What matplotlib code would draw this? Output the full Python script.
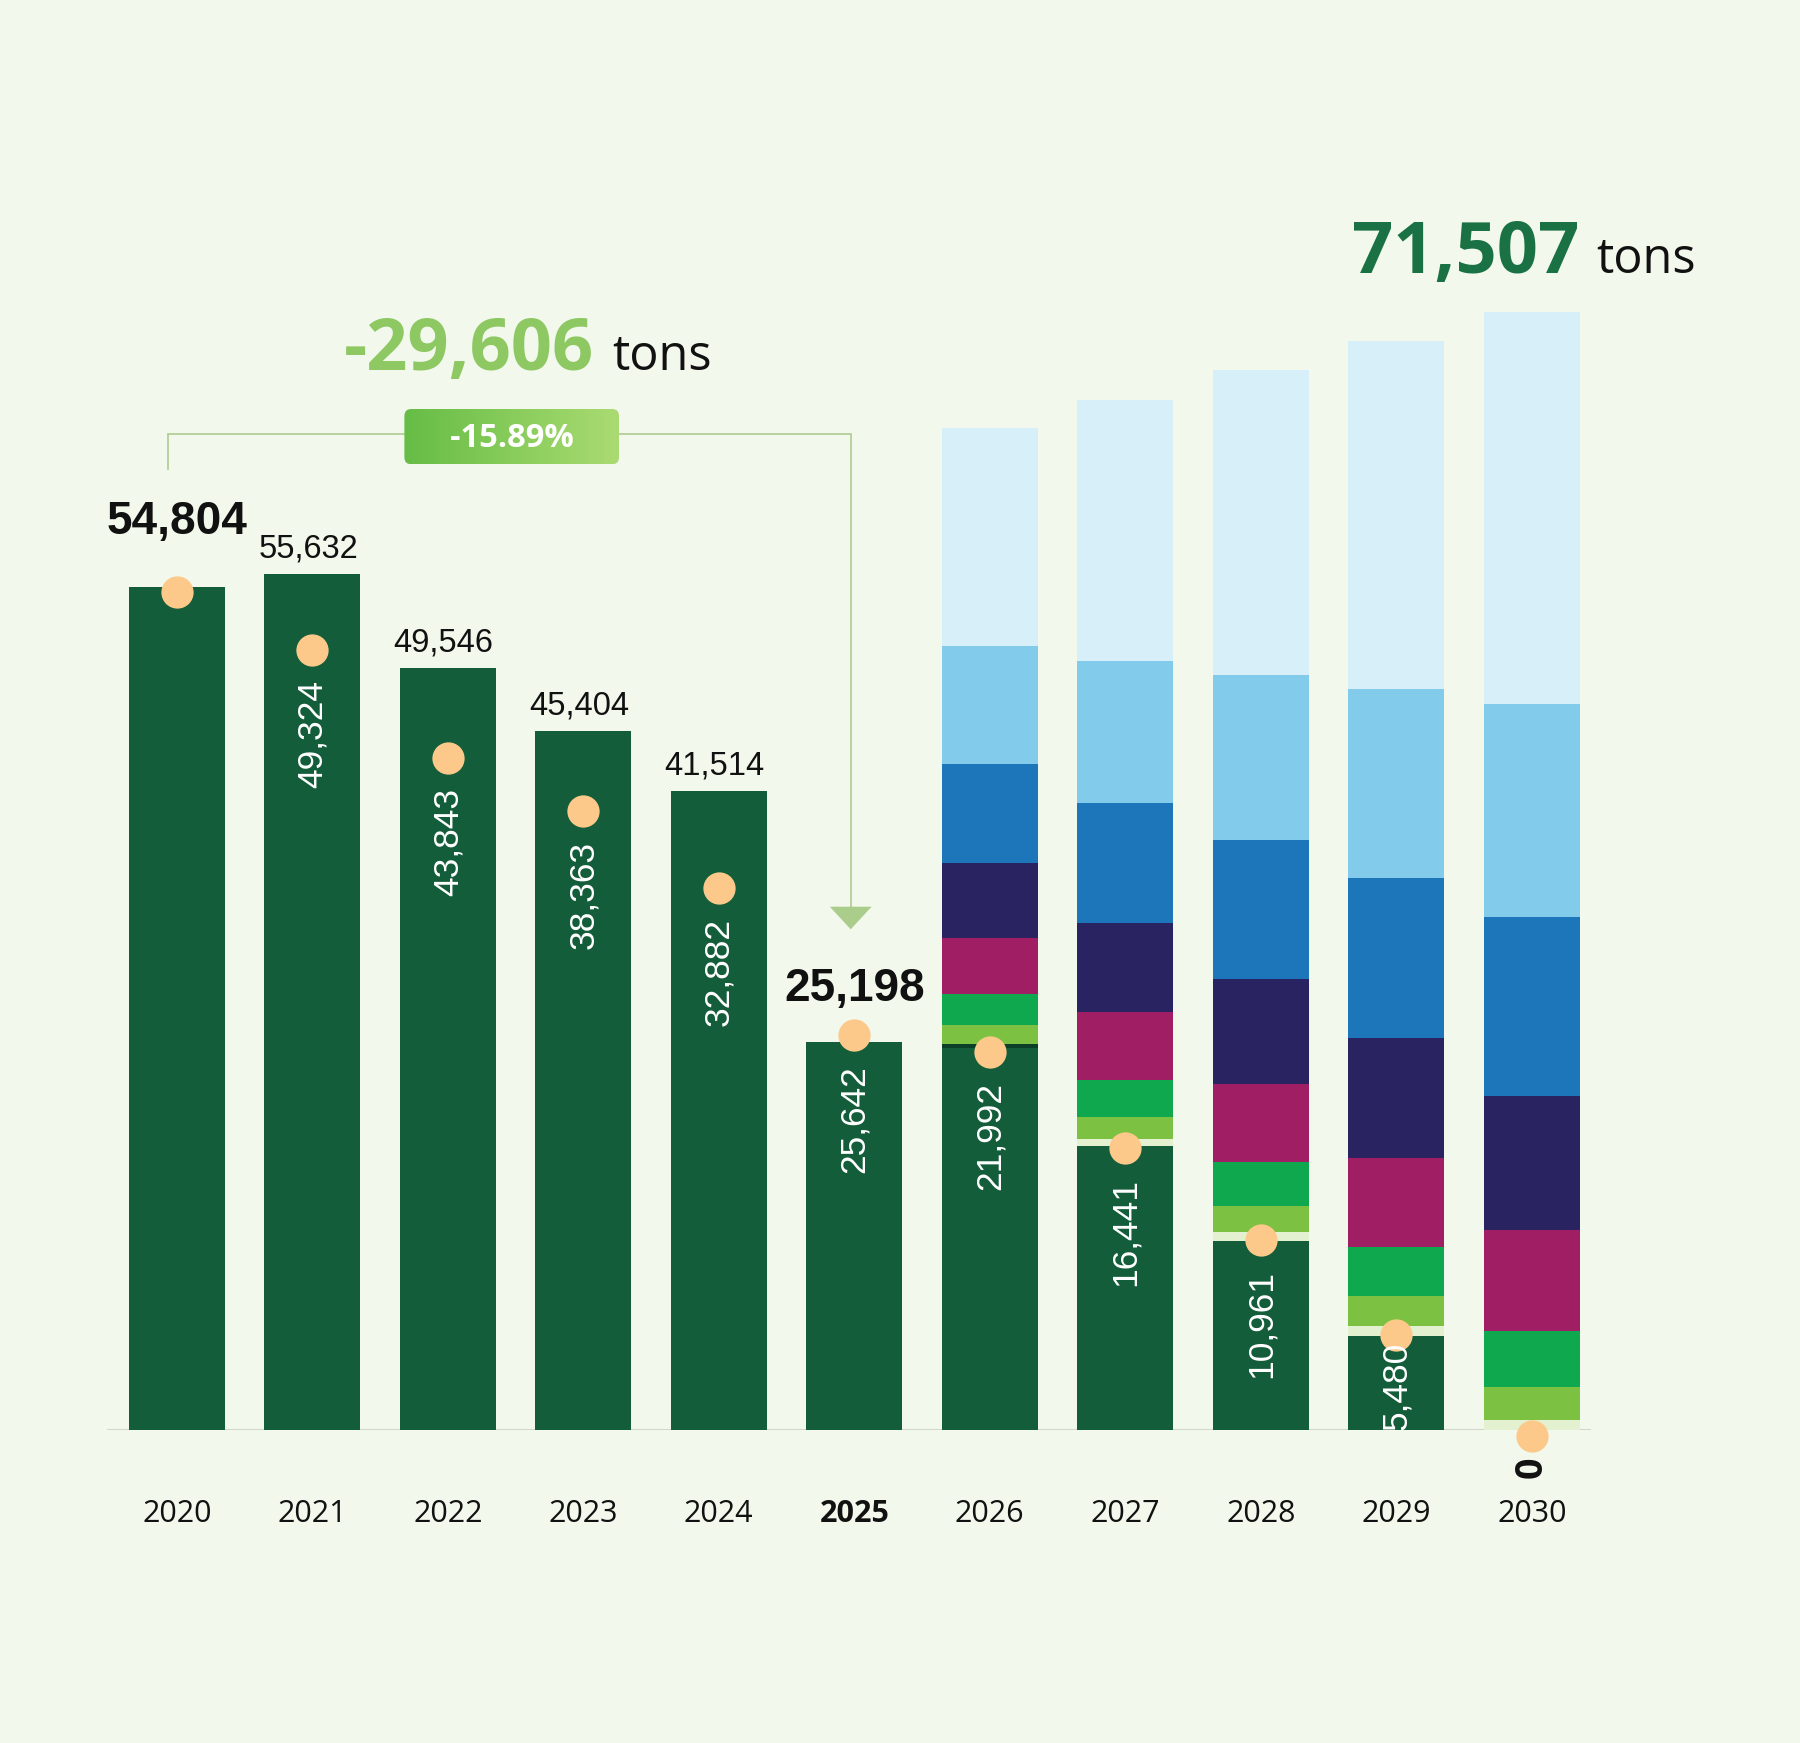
import matplotlib
matplotlib.use("Agg")
import matplotlib.pyplot as plt
import numpy as np
from matplotlib.patches import FancyBboxPatch, Polygon
from matplotlib.colors import LinearSegmentedColormap

# ---------------- data ----------------
years = ["2020", "2021", "2022", "2023", "2024", "2025",
         "2026", "2027", "2028", "2029", "2030"]
# actual emissions 2020-2025 (tons)
actual = [54804, 55632, 49546, 45404, 41514, 25198]
top_labels = ["54,804", "55,632", "49,546", "45,404", "41,514", "25,198"]
# trajectory points (dots) and their labels
dot_values = [54450, 50700, 43700, 40235, 35250, 25675, 24590, 18330, 12350, 6175, -390]
dot_labels = [None, "49,324", "43,843", "38,363", "32,882", "25,642",
              "21,992", "16,441", "10,961", "5,480", "0"]
# stacked projection 2026-2030 (tons per segment, bottom to top)
seg_remaining = [24810, 18465, 12290, 6090, 0]
seg_strip = [305, 420, 565, 680, 650]
seg_lightgreen = [1195, 1470, 1690, 1910, 2170]
seg_green = [2030, 2425, 2850, 3245, 3640]
seg_magenta = [3645, 4370, 5075, 5780, 6540]
seg_navy = [4855, 5835, 6820, 7780, 8735]
seg_blue = [6455, 7780, 9070, 10395, 11630]
seg_sky = [7695, 9190, 10745, 12285, 13810]
seg_pale = [14150, 16965, 19810, 22605, 25505]

reduction_total = "-29,606"
reduction_pct = "-15.89%"
abatement_total = "71,507"
unit = "tons"

# ---------------- style ----------------
BG = "#f2f8ec"
DARK = "#135d3a"
DOT = "#fdc98a"
STRIP_COLORS = ["#0c3f27", "#e3f1d0", "#e3f1d0", "#e3f1d0", "#e3f1d0"]
SEG_COLORS = ["#7dc143", "#0fa84e", "#a01e63", "#2a2361", "#1e76ba", "#82cbea", "#d7eff8"]
NUM_FONT = ["Liberation Sans", "DejaVu Sans"]
TXT_FONT = ["Open Sans", "DejaVu Sans"]

W, H = 1800, 1743
fig = plt.figure(figsize=(W / 100, H / 100), dpi=100, facecolor=BG)

# main axes: pixel mapping  x_px = 176.8 + 135.5*i ; baseline at y_px = 1430 ; 65 tons / px
PX_PER_UNIT = 135.5
TONS_PER_PX = 65.0
left_px, right_px = 106.8, 1591.0
base_px, top_px = 1430.0, 100.0
ax = fig.add_axes([left_px / W, (H - base_px) / H,
                   (right_px - left_px) / W, (base_px - top_px) / H])
ax.set_xlim((left_px - 176.8) / PX_PER_UNIT, (right_px - 176.8) / PX_PER_UNIT)
ax.set_ylim(0, (base_px - top_px) * TONS_PER_PX)
ax.axis("off")

BW = 0.711
x_all = np.arange(len(years))

# baseline
ax.axhline(0, color="#d3d6cc", lw=2.2, zorder=0)

# actual bars
x_act = x_all[:len(actual)]
ax.bar(x_act, actual, width=BW, color=DARK, linewidth=0, zorder=2)

# stacked projections
x_proj = x_all[len(actual):]
bottom = np.zeros(len(x_proj))
ax.bar(x_proj, seg_remaining, width=BW, bottom=bottom, color=DARK, linewidth=0, zorder=2)
bottom += np.array(seg_remaining)
ax.bar(x_proj, seg_strip, width=BW, bottom=bottom, color=STRIP_COLORS, linewidth=0, zorder=2)
bottom += np.array(seg_strip)
for seg, col in zip([seg_lightgreen, seg_green, seg_magenta, seg_navy,
                     seg_blue, seg_sky, seg_pale], SEG_COLORS):
    ax.bar(x_proj, seg, width=BW, bottom=bottom, color=col, linewidth=0, zorder=2)
    bottom += np.array(seg)

# dots
ax.scatter(x_all, dot_values, s=540, color=DOT, linewidths=0, zorder=5, clip_on=False)

# labels above actual bars
for i, (v, lab) in enumerate(zip(actual, top_labels)):
    bold = i in (0, len(actual) - 1)
    if bold:
        off = 38 if i == 0 else 29.5
        ax.annotate(lab, (i, v), xytext=(0, off), textcoords="offset points",
                    ha="center", va="baseline", fontsize=33, fontweight="bold",
                    family=NUM_FONT, color="#111111", zorder=6)
    else:
        ax.annotate(lab, (i, v), xytext=(-3, 12), textcoords="offset points",
                    ha="center", va="baseline", fontsize=23.5,
                    family=NUM_FONT, color="#111111", zorder=6)

# rotated labels under dots
for i, (v, lab) in enumerate(zip(dot_values, dot_labels)):
    if lab is None:
        continue
    if v <= 0:
        ax.annotate(lab, (i, v), xytext=(0, -15), textcoords="offset points",
                    ha="center", va="top", rotation=90, fontsize=27,
                    fontweight="bold", family=TXT_FONT, color="#111111",
                    zorder=6, annotation_clip=False)
    elif v < 10000:
        # small bar: label sits on the baseline inside the bar
        ax.annotate(lab, (i, 0), xytext=(0, 0), textcoords="offset points",
                    ha="center", va="bottom", rotation=90, fontsize=25.5,
                    family=NUM_FONT, color="white", zorder=6, annotation_clip=False)
    else:
        ax.annotate(lab, (i, v), xytext=(0, -21.5), textcoords="offset points",
                    ha="center", va="top", rotation=90, fontsize=25.5,
                    family=NUM_FONT, color="white", zorder=6, annotation_clip=False)

# year labels
year_y = -(1522.5 - base_px) * TONS_PER_PX
for i, y in enumerate(years):
    ax.text(i, year_y, y, ha="center", va="baseline", fontsize=22,
            fontweight="bold" if y == "2025" else "normal",
            family=TXT_FONT, color="#111111", clip_on=False)

# ---------------- overlay (pixel coordinates) ----------------
ov = fig.add_axes([0, 0, 1, 1])
ov.set_zorder(5)
ov.axis("off")

# bracket connector
ov.plot([168, 168, 850.7, 850.7], [469.3, 434, 434, 907], color="#b3cf98",
        lw=1.3, solid_joinstyle="miter", zorder=2)
ov.add_patch(Polygon([(829.8, 906.7), (871.6, 906.7), (850.7, 929.3)],
                     closed=True, facecolor="#aacd8c", edgecolor="none", zorder=2))

# gradient pill
pill_x0, pill_x1, pill_y0, pill_y1 = 404.4, 619.0, 409.0, 464.3
cmap = LinearSegmentedColormap.from_list("pill", ["#66bd45", "#aadb72"])
grad = np.linspace(0, 1, 256).reshape(1, -1)
im = ov.imshow(grad, extent=(pill_x0, pill_x1, pill_y1, pill_y0), cmap=cmap,
               aspect="auto", zorder=3, interpolation="bilinear")
pill = FancyBboxPatch((pill_x0, pill_y0), pill_x1 - pill_x0, pill_y1 - pill_y0,
                      boxstyle="round,pad=0,rounding_size=7",
                      facecolor="none", edgecolor="none", zorder=3)
ov.add_patch(pill)
im.set_clip_path(pill)
ov.text((pill_x0 + pill_x1) / 2, 446.7, reduction_pct, ha="center", va="baseline",
        fontsize=23.5, fontweight="bold", family=TXT_FONT, color="white", zorder=4)

# headlines
ov.text(343.7, 370, reduction_total, ha="left", va="baseline", fontsize=52,
        fontweight="bold", family=TXT_FONT, color="#8dc863", zorder=4)
ov.text(612.5, 370, unit, ha="left", va="baseline", fontsize=35,
        family=TXT_FONT, color="#111111", zorder=4)
ov.text(1351.7, 273.3, abatement_total, ha="left", va="baseline", fontsize=52,
        fontweight="bold", family=TXT_FONT, color="#1a7244", zorder=4)
ov.text(1596.7, 273.3, unit, ha="left", va="baseline", fontsize=35,
        family=TXT_FONT, color="#111111", zorder=4)

ov.set_xlim(0, W)
ov.set_ylim(H, 0)

fig.savefig("out.png", dpi=100, facecolor=BG)
